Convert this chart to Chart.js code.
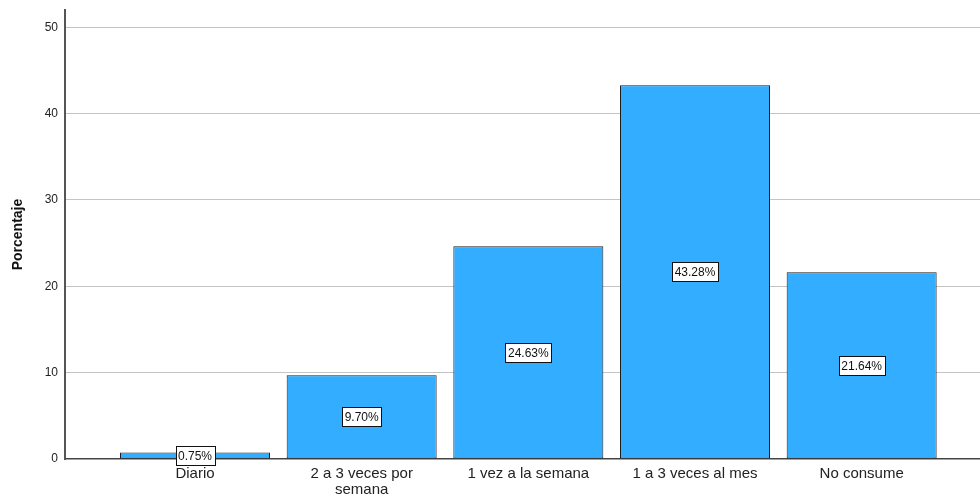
<!DOCTYPE html>
<html>
<head>
<meta charset="utf-8">
<script src="https://cdn.jsdelivr.net/npm/chart.js@4.4.1/dist/chart.umd.min.js"></script>
<style>
  html, body { margin: 0; padding: 0; background: #fff; }
  #wrap { width: 980px; height: 504px; }
</style>
</head>
<body>
<div id="wrap"><canvas id="barChart" width="980" height="504"></canvas></div>
<script>
// datos del grafico
const categorias = [
  "Diario",
  ["2 a 3 veces por", "semana"],
  "1 vez a la semana",
  "1 a 3 veces al mes",
  "No consume",
];
const porcentajes = [0.75, 9.7, 24.63, 43.28, 21.64];
const yTicks = [0, 10, 20, 30, 40, 50];

// etiquetas dentro de las barras
const boxLabels = {
  id: "boxLabels",
  afterDatasetsDraw(chart) {
    const ctx = chart.ctx;
    const meta = chart.getDatasetMeta(0);
    ctx.save();
    ctx.font = "12px 'Liberation Sans', Arial, sans-serif";
    ctx.textAlign = "center";
    ctx.textBaseline = "middle";
    meta.data.forEach((bar, i) => {
      const txt = porcentajes[i].toFixed(2) + "%";
      const cy = (bar.y + bar.base) / 2;
      const w = Math.round(ctx.measureText(txt).width + 5);
      const h = 19;
      const bx = Math.round(bar.x - w / 2) + 0.5;
      const by = Math.round(cy - h / 2) + 0.5;
      ctx.fillStyle = "#fff";
      ctx.fillRect(bx, by, w, h);
      ctx.strokeStyle = "#111";
      ctx.lineWidth = 1;
      ctx.strokeRect(bx, by, w, h);
      ctx.fillStyle = "#111";
      ctx.fillText(txt, bar.x, cy + 1);
    });
    ctx.restore();
  },
};

const ctx = document.getElementById("barChart").getContext("2d");
new Chart(ctx, {
  type: "bar",
  data: {
    datasets: [
      {
        data: porcentajes.map((v, i) => ({ x: i, y: v })),
        backgroundColor: "#33ADFF",
        borderColor: "#1e1e1e",
        borderWidth: 1,
        borderSkipped: false,
        categoryPercentage: 1,
        barPercentage: 0.9,
      },
    ],
  },
  options: {
    responsive: false,
    animation: false,
    layout: { padding: { top: 10, right: 0, left: 0, bottom: 0 } },
    plugins: {
      legend: { display: false },
      tooltip: { enabled: false },
    },
    scales: {
      x: {
        type: "linear",
        offset: false,
        min: -0.78,
        max: 4.71,
        afterBuildTicks: (scale) => {
          scale.ticks = categorias.map((c, i) => ({ value: i }));
        },
        afterFit: (scale) => {
          scale.height = 45;
          scale.paddingLeft = 0;
          scale.paddingRight = 0;
        },
        grid: { display: false, drawTicks: false },
        border: { display: true, color: "#444", width: 1.5 },
        ticks: {
          autoSkip: false,
          maxRotation: 0,
          padding: 7,
          color: "#222",
          font: { size: 15, family: "'Liberation Sans', Arial, sans-serif", lineHeight: 1.05 },
          callback: (value) => categorias[value],
        },
      },
      y: {
        min: 0,
        max: 52,
        afterBuildTicks: (scale) => {
          scale.ticks = yTicks.map((v) => ({ value: v }));
        },
        afterFit: (scale) => {
          scale.width = 65;
          scale.paddingTop = 0;
          scale.paddingBottom = 0;
        },
        grid: {
          drawTicks: false,
          color: (c) => (c.tick && c.tick.value > 0 ? "#c4c4c4" : "transparent"),
          lineWidth: 1,
        },
        border: { display: true, color: "#555", width: 2 },
        ticks: {
          padding: 7,
          color: "#222",
          font: { size: 12, family: "'Liberation Sans', Arial, sans-serif" },
        },
        title: {
          display: true,
          text: "Porcentaje",
          color: "#111",
          padding: { top: 10, bottom: 0 },
          font: { size: 14, weight: "bold", family: "'Liberation Sans', Arial, sans-serif" },
        },
      },
    },
  },
  plugins: [boxLabels],
});
</script>
</body>
</html>
